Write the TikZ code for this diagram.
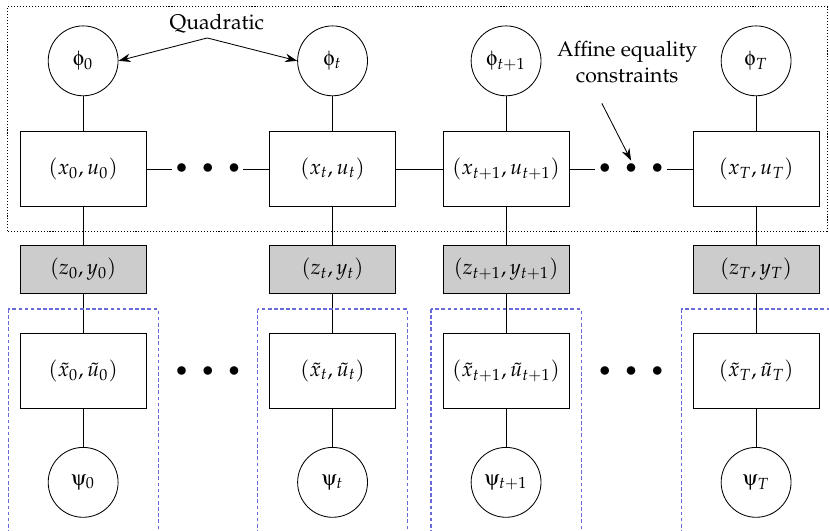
\documentclass[tikz,border=0pt]{standalone}
\usepackage[T1]{fontenc}
\usepackage{mathpazo}
\usepackage[Symbol]{upgreek}
\usetikzlibrary{positioning,calc,arrows.meta}
\definecolor{grpblue}{RGB}{105,105,215}

\begin{document}
\begin{tikzpicture}[
  var/.style={rectangle, draw, minimum width=2.09cm, minimum height=1.245cm, inner sep=1pt},
  obs/.style={var, fill=black!20, minimum height=0.8cm},
  fac/.style={circle, draw, minimum size=1.16cm, inner sep=0pt},
  dots/.style={inner sep=1.5pt},
  arrow/.style={-{Stealth[length=2mm, width=1.4mm]}},
  grp/.style={draw=grpblue, line width=0.55pt, dash pattern=on 1.7pt off 1.2pt},
  cons/.style={dash pattern=on 0.5pt off 0.9pt},
  label/.style={align=center},
]
\useasboundingbox (0,0) rectangle (13.76,8.80);
\clip (0,0) rectangle (13.76,8.80);

% === Columns ===
\node[fac] (phi0)  at (1.38, 7.79)  {$\upphi_0$};
\node[fac] (phit)  at (5.52, 7.79)  {$\upphi_t$};
\node[fac] (phit1) at (8.40, 7.79)  {$\upphi_{t+1}$};
\node[fac] (phiT)  at (12.55, 7.79) {$\upphi_T$};

\node[var, below=0.58cm of phi0]  (x0)  {$(x_0,u_0)$};
\node[var, below=0.58cm of phit]  (xt)  {$(x_t,u_t)$};
\node[var, below=0.58cm of phit1] (xt1) {$(x_{t+1},u_{t+1})$};
\node[var, below=0.58cm of phiT]  (xT)  {$(x_T,u_T)$};

\node[obs, below=0.63cm of x0]  (z0)  {$(z_0,y_0)$};
\node[obs, below=0.63cm of xt]  (zt)  {$(z_t,y_t)$};
\node[obs, below=0.63cm of xt1] (zt1) {$(z_{t+1},y_{t+1})$};
\node[obs, below=0.63cm of xT]  (zT)  {$(z_T,y_T)$};

\node[var, below=0.65cm of z0]  (xb0)  {$(\tilde{x}_0,\tilde{u}_0)$};
\node[var, below=0.65cm of zt]  (xbt)  {$(\tilde{x}_t,\tilde{u}_t)$};
\node[var, below=0.65cm of zt1] (xbt1) {$(\tilde{x}_{t+1},\tilde{u}_{t+1})$};
\node[var, below=0.65cm of zT]  (xbT)  {$(\tilde{x}_T,\tilde{u}_T)$};

\node[fac, below=0.63cm of xb0]  (psi0)  {$\uppsi_0$};
\node[fac, below=0.63cm of xbt]  (psit)  {$\uppsi_t$};
\node[fac, below=0.63cm of xbt1] (psit1) {$\uppsi_{t+1}$};
\node[fac, below=0.63cm of xbT]  (psiT)  {$\uppsi_T$};

% === Dots ===
\node[dots] (d1) at ($(x0)!0.5!(xt)$)   {$\bullet\enspace\bullet\enspace\bullet$};
\node[dots] (d2) at ($(xt1)!0.5!(xT)$)  {$\bullet\enspace\bullet\enspace\bullet$};
\node[dots] (d3) at ($(xb0)!0.5!(xbt)$) {$\bullet\enspace\bullet\enspace\bullet$};
\node[dots] (d4) at ($(xbt1)!0.5!(xbT)$) {$\bullet\enspace\bullet\enspace\bullet$};

% === Edges ===
\draw (x0) -- (d1) -- (xt) -- (xt1) -- (d2) -- (xT);
\draw (phi0) -- (x0) -- (z0) -- (xb0) -- (psi0);
\draw (phit) -- (xt) -- (zt) -- (xbt) -- (psit);
\draw (phit1) -- (xt1) -- (zt1) -- (xbt1) -- (psit1);
\draw (phiT) -- (xT) -- (zT) -- (xbT) -- (psiT);

% === Groups ===
\draw[cons] (0.13,4.96) rectangle (13.73,8.69);
\draw[grp] ($(z0.south)+(-1.245,-0.25)$) rectangle ++(2.49,-4.2);
\draw[grp] ($(zt.south)+(-1.245,-0.25)$) rectangle ++(2.49,-4.2);
\draw[grp] ($(zt1.south)+(-1.245,-0.25)$) rectangle ++(2.49,-4.2);
\draw[grp] ($(zT.south)+(-1.245,-0.25)$) rectangle ++(2.49,-4.2);

% === Annotations ===
\node[label] (quad) at (3.60, 8.40) {Quadratic};
\coordinate (qsrc) at (3.44, 8.17);
\draw[arrow] (qsrc) -- (phi0.east);
\draw[arrow] (qsrc) -- (phit.west);

\node[label] (affine) at (10.41, 7.77) {Affine equality\\constraints};
\draw[arrow] ($(affine.south)+(-0.42,-0.22)$) -- (d2.north);

\end{tikzpicture}
\end{document}
